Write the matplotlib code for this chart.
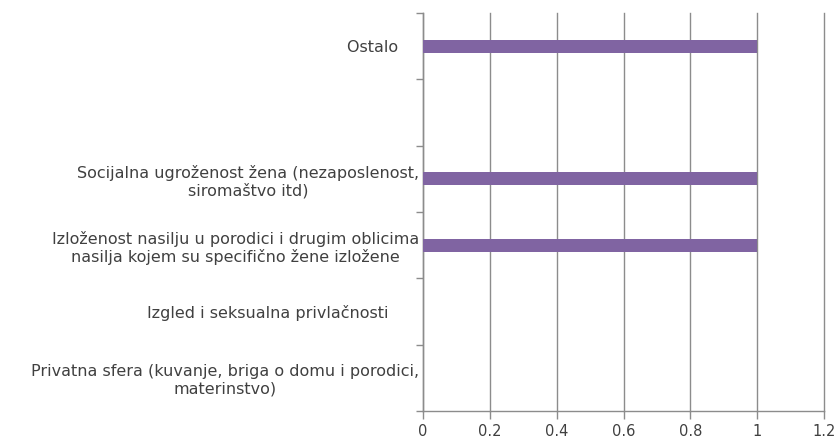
import matplotlib
matplotlib.use("Agg")
import matplotlib.pyplot as plt
import numpy as np

plt.rcParams['font.family'] = ['DejaVu Sans']

# Categories listed top to bottom
categories = [
    "Ostalo    ",
    "",
    "Socijalna ugroženost žena (nezaposlenost,\nsiromaštvo itd)",
    "Izloženost nasilju u porodici i drugim oblicima\nnasilja kojem su specifično žene izložene",
    "Izgled i seksualna privlačnosti      ",
    "Privatna sfera (kuvanje, briga o domu i porodici,\nmaterinstvo)",
]
values = [1, 0, 1, 1, 0, 0]
x_ticks = [0, 0.2, 0.4, 0.6, 0.8, 1.0, 1.2]
x_tick_labels = ["0", "0.2", "0.4", "0.6", "0.8", "1", "1.2"]

bar_color = "#8064A2"
grid_color = "#8C8C8C"
text_color = "#404040"

fig = plt.figure(figsize=(8.4, 4.48), dpi=100)
ax = fig.add_axes([423 / 840, (448 - 411) / 448, (824 - 423) / 840, (411 - 13) / 448])

y = np.arange(len(categories))
ax.barh(y, values, height=0.2, color=bar_color, zorder=3)

ax.set_ylim(len(categories) - 0.5, -0.5)
ax.set_xlim(0, 1.2)

ax.set_xticks(x_ticks)
ax.set_xticklabels(x_tick_labels, fontsize=10.5, color=text_color)
ax.set_yticks(y)
ax.set_yticklabels(categories, fontsize=11.5, color=text_color,
                   multialignment="center", linespacing=1.2)
ax.tick_params(axis="y", length=0, pad=3)
ax.tick_params(axis="x", length=6, width=1, color=grid_color, pad=3)

# category boundary tick marks on the y axis
ax.set_yticks(np.arange(-0.5, len(categories), 1.0), minor=True)
ax.tick_params(axis="y", which="minor", length=5, width=1, color=grid_color)

ax.grid(axis="x", color=grid_color, linewidth=1, zorder=0)
for gl in ax.xaxis.get_gridlines():
    gl.set_clip_on(False)
for side in ["top", "right"]:
    ax.spines[side].set_visible(False)
for side in ["left", "bottom"]:
    ax.spines[side].set_color(grid_color)
    ax.spines[side].set_linewidth(1)

fig.savefig("out.png", dpi=100, facecolor="white")
